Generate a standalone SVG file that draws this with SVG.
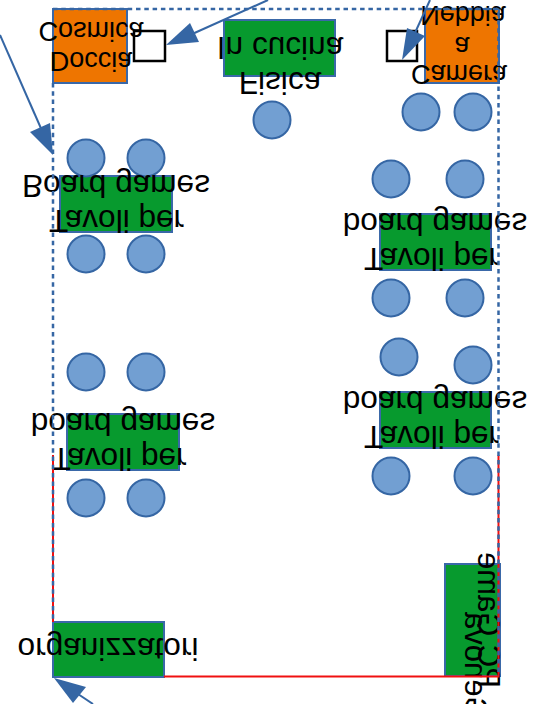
<svg xmlns="http://www.w3.org/2000/svg" width="533" height="704" viewBox="0 0 533 704">
<style>
.g{fill:#079a2e;stroke:#3a68a8;stroke-width:2}
.o{fill:#ee7500;stroke:#3a68a8;stroke-width:2}
.c{fill:#729fd2;stroke:#3566a4;stroke-width:2}
.b{fill:#fff;stroke:#000;stroke-width:2.500}
.t{font-family:"Liberation Sans",Arial,sans-serif;font-size:31.600px;fill:#000;text-anchor:middle}
.s{font-family:"Liberation Sans",Arial,sans-serif;font-size:27px;fill:#000;text-anchor:middle}
.v{font-family:"Liberation Sans",Arial,sans-serif;font-size:31px;fill:#000}
.l{fill:none;stroke:#3566a4;stroke-width:2}
.d{fill:none;stroke:#3566a4;stroke-width:2.500;stroke-dasharray:4.500 3.800}
.r{fill:none;stroke:#f01010;stroke-width:2}
.h{fill:#3566a4}
</style>
<g id="doccia"><rect class="o" x="53" y="9" width="74" height="74"/></g>
<g id="box1"><rect class="b" x="134" y="31" width="31" height="30"/></g>
<g id="cucina"><rect class="g" x="224" y="20" width="111" height="56"/></g>
<g id="box2"><rect class="b" x="387" y="31" width="30" height="30"/></g>
<g id="camera"><rect class="o" x="425" y="9" width="74" height="74"/></g>
<g id="t1"><rect class="g" x="60" y="176" width="112" height="56"/></g>
<g id="t2"><rect class="g" x="380" y="214" width="111" height="56"/></g>
<g id="t3"><rect class="g" x="67" y="414" width="112" height="56"/></g>
<g id="t4"><rect class="g" x="380" y="392" width="111" height="56"/></g>
<g id="org"><rect class="g" x="53" y="622" width="111" height="55"/></g>
<g id="pc"><rect class="g" x="445" y="564" width="55" height="112"/></g>
<g id="seats">
<circle class="c" cx="86" cy="158" r="18.500"/><circle class="c" cx="146" cy="158" r="18.500"/>
<circle class="c" cx="86" cy="254" r="18.500"/><circle class="c" cx="146" cy="254" r="18.500"/>
<circle class="c" cx="272" cy="120" r="18.500"/>
<circle class="c" cx="421" cy="112" r="18.500"/><circle class="c" cx="473" cy="112" r="18.500"/>
<circle class="c" cx="391" cy="179" r="18.500"/><circle class="c" cx="465" cy="179" r="18.500"/>
<circle class="c" cx="391" cy="298" r="18.500"/><circle class="c" cx="465" cy="298" r="18.500"/>
<circle class="c" cx="399" cy="357" r="18.500"/><circle class="c" cx="473" cy="365" r="18.500"/>
<circle class="c" cx="391" cy="476" r="18.500"/><circle class="c" cx="473" cy="476" r="18.500"/>
<circle class="c" cx="86" cy="372" r="18.500"/><circle class="c" cx="146" cy="372" r="18.500"/>
<circle class="c" cx="86" cy="498" r="18.500"/><circle class="c" cx="146" cy="498" r="18.500"/>
</g>
<g id="labels">
<text class="s" transform="matrix(1 0 0 -1 91 22)">Cosmica</text>
<text class="s" transform="matrix(1 0 0 -1 91 52)">Doccia</text>
<text class="t" transform="matrix(1 0 0 -1 280 37)">In cucina</text>
<text class="t" transform="matrix(1 0 0 -1 280 72)">Fisica</text>
<text class="s" transform="matrix(1 0 0 -1 463 6)">Nebbia</text>
<text class="s" transform="matrix(1 0 0 -1 462 37)">a</text>
<text class="s" transform="matrix(1 0 0 -1 459 65)">Camera</text>
<text class="t" transform="matrix(1 0 0 -1 116 175)">Board games</text>
<text class="t" transform="matrix(1 0 0 -1 116.500 210)">Tavoli per</text>
<text class="t" transform="matrix(1 0 0 -1 435 213)">board games</text>
<text class="t" transform="matrix(1 0 0 -1 431.500 248)">Tavoli per</text>
<text class="t" transform="matrix(1 0 0 -1 435 391)">board games</text>
<text class="t" transform="matrix(1 0 0 -1 431.500 426)">Tavoli per</text>
<text class="t" transform="matrix(1 0 0 -1 123 413)">board games</text>
<text class="t" transform="matrix(1 0 0 -1 119 448)">Tavoli per</text>
<text class="t" transform="matrix(1 0 0 -1 108 638)">organizzatori</text>
<text class="v" transform="matrix(0 -1 -1 0 478 688)" style="text-anchor:start">PC Game</text>
<text class="v" transform="matrix(0 -1 -1 0 465 612)" style="text-anchor:end">Genova</text>
</g>
<g id="connectors">
<path class="r" d="M53 455V622M164 676.500H498.500V455"/>
<path class="d" d="M53 83V622M53 9H498.500V676"/>
<path class="l" d="M0 35L43 133"/><path class="h" d="M53 155L30 132L50 123Z"/>
<path class="l" d="M268 0L190 35"/><path class="h" d="M166 45L190 23L199 42Z"/>
<path class="l" d="M430 0L414 35"/><path class="h" d="M402 60L407 28L425 36Z"/>
<path class="l" d="M93 704L72 690"/><path class="h" d="M54 678L86 687L73 703Z"/>
</g>
</svg>
